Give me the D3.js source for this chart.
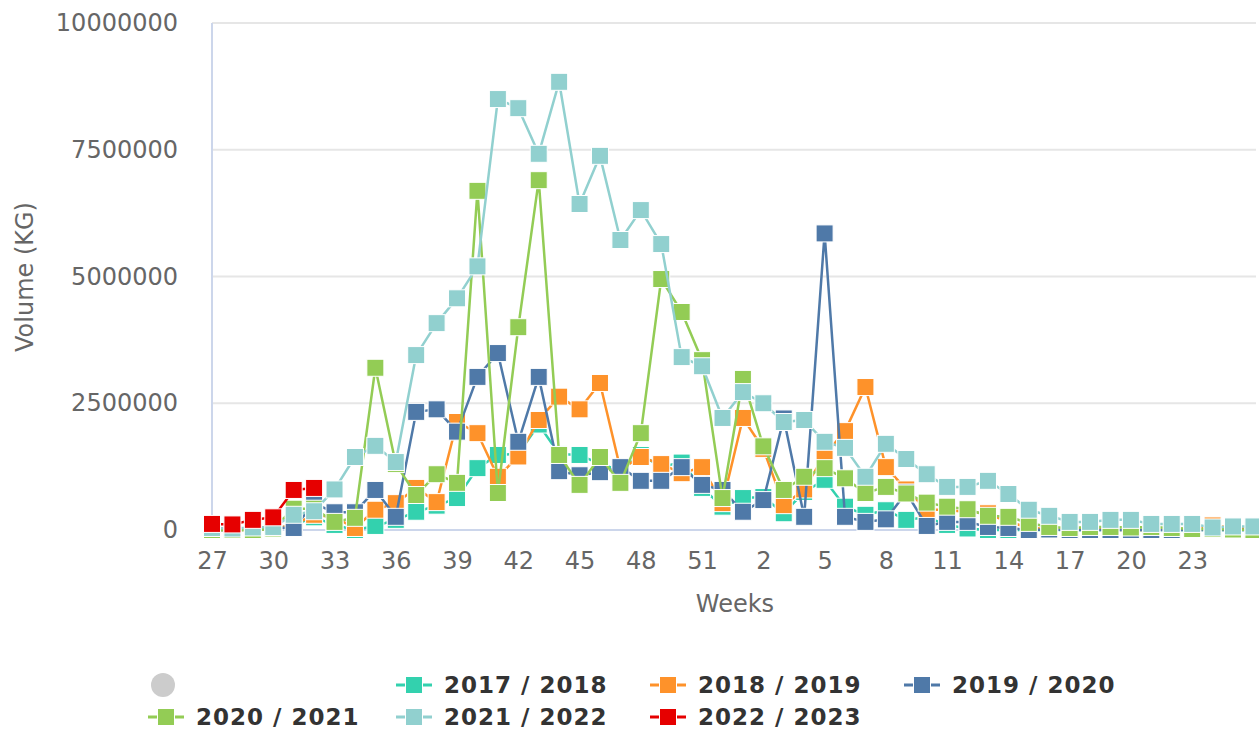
<!DOCTYPE html>
<html>
<head>
<meta charset="utf-8">
<script src="https://cdn.jsdelivr.net/npm/d3@7"></script>
<style>
  body { margin: 0; background: #fff; }
  svg { display: block; font-family: "DejaVu Sans", sans-serif; }
</style>
</head>
<body>
<script>
// week numbers of the season, July to June
var weeks = ["27","28","29","30","31","32","33","34","35","36","37","38","39","40","41","42","43","44","45","46",
  "47","48","49","50","51","52","1","2","3","4","5","6","7","8","9","10","11","12","13","14","15","16","17","18",
  "19","20","21","22","23","24","25","26"];

var s2017 = [0,0,0,20000,100000,250000,100000,0,80000,200000,360000,480000,630000,1220000,1480000,1500000,2080000,1500000,1480000,1300000,
  1180000,1480000,1250000,1330000,830000,460000,630000,650000,330000,750000,990000,460000,300000,390000,200000,250000,100000,30000,0,0,
  0,0,0,0,0,0,0,0,0,0,0,0];
var s2018 = [0,0,0,30000,100000,300000,250000,40000,400000,530000,830000,550000,2130000,1910000,1050000,1450000,2170000,2630000,2380000,2900000,
  1200000,1440000,1300000,1120000,1240000,530000,2210000,1600000,490000,800000,1480000,1950000,2820000,1240000,800000,400000,400000,350000,330000,150000,
  60000,0,20000,30000,0,0,0,20000,30000,90000,40000,20000];
var s2019 = [0,0,10000,50000,40000,520000,350000,350000,790000,260000,2330000,2380000,1940000,3020000,3490000,1740000,3020000,1160000,1080000,1140000,
  1240000,970000,970000,1240000,890000,790000,360000,590000,2200000,260000,5850000,260000,160000,210000,740000,80000,160000,160000,60000,40000,
  0,10000,0,0,0,0,0,0,0,0,0,0];
var s2020 = [0,0,0,30000,420000,420000,160000,240000,3200000,1300000,690000,1100000,930000,6690000,730000,4000000,6900000,1480000,890000,1440000,
  930000,1910000,4950000,4300000,3350000,630000,2980000,1650000,790000,1050000,1220000,1020000,730000,850000,720000,540000,460000,410000,280000,260000,
  140000,60000,40000,60000,60000,50000,60000,40000,20000,20000,10000,0];
var s2021 = [40000,30000,50000,60000,300000,370000,800000,1440000,1660000,1340000,3450000,4080000,4570000,5200000,8500000,8320000,7420000,8840000,6430000,7380000,
  5720000,6310000,5640000,3410000,3230000,2210000,2720000,2500000,2130000,2170000,1740000,1620000,1050000,1700000,1400000,1100000,850000,850000,970000,710000,
  400000,280000,160000,160000,200000,200000,120000,120000,120000,50000,70000,70000];
var s2022 = [120000,110000,200000,250000,790000,830000];

var seriesNames = ["2017 / 2018","2018 / 2019","2019 / 2020","2020 / 2021","2021 / 2022","2022 / 2023"];
var seriesValues = [s2017, s2018, s2019, s2020, s2021, s2022];
var colors = ["#33d1ae","#fe922a","#4f79a8","#93cc55","#91d0cf","#e60000"];
var yTicks = [0, 2500000, 5000000, 7500000, 10000000];

var W = 1259, H = 731;
var plotLeft = 212, plotRight = 1256, plotTop = 23, plotBottom = 530;

var svg = d3.select("body").append("svg").attr("width", W).attr("height", H);

var x = d3.scalePoint().domain(weeks).range([plotLeft, plotLeft + 51 * 20.42]);
var y = d3.scaleLinear().domain([0, 10000000]).range([plotBottom, plotTop]);

// grid lines
svg.append("g").selectAll("line").data(yTicks.slice(1)).enter().append("line")
  .attr("x1", plotLeft).attr("x2", plotRight)
  .attr("y1", function(d){ return y(d); }).attr("y2", function(d){ return y(d); })
  .attr("stroke", "#e6e6e6").attr("stroke-width", 2);

// axis lines
svg.append("line").attr("x1", plotLeft).attr("x2", plotLeft).attr("y1", plotTop).attr("y2", plotBottom)
  .attr("stroke", "#ccd6eb").attr("stroke-width", 2);
svg.append("line").attr("x1", plotLeft).attr("x2", plotRight).attr("y1", plotBottom).attr("y2", plotBottom)
  .attr("stroke", "#ccd6eb").attr("stroke-width", 2);

// y tick labels
var yAxis = d3.axisLeft(y).tickValues(yTicks).tickFormat(d3.format("d")).tickSize(0).tickPadding(34);
var gy = svg.append("g").attr("transform", "translate(" + plotLeft + ",0)").call(yAxis);
gy.select(".domain").remove();
gy.selectAll("text").attr("fill", "#666").style("font-size", "24px").style("font-family", "DejaVu Sans");

// x tick labels, every third week
var xAxis = d3.axisBottom(x).tickValues(weeks.filter(function(d, i){ return i % 3 == 0 && i < 51; }))
  .tickSize(0).tickPadding(22);
var gx = svg.append("g").attr("transform", "translate(0," + plotBottom + ")").call(xAxis);
gx.select(".domain").remove();
gx.selectAll("text").attr("fill", "#666").style("font-size", "24px").style("font-family", "DejaVu Sans");

// axis titles
svg.append("text").attr("x", 735).attr("y", 604).attr("dy", "0.35em").attr("text-anchor", "middle")
  .attr("fill", "#666").style("font-size", "24px").text("Weeks");
svg.append("text").attr("transform", "translate(25,277) rotate(-90)").attr("dy", "0.35em")
  .attr("text-anchor", "middle").attr("fill", "#666").style("font-size", "24px").text("Volume (KG)");

// series: line first, then square markers
var line = d3.line()
  .defined(function(d){ return d != null; })
  .x(function(d, i){ return x(weeks[i]); })
  .y(function(d){ return y(d); });

var msize = 17;
seriesValues.forEach(function(vals, k){
  var g = svg.append("g");
  g.append("path").attr("d", line(vals)).attr("fill", "none")
    .attr("stroke", colors[k]).attr("stroke-width", 2.5).attr("stroke-linejoin", "round");
  g.selectAll("rect").data(vals).enter().append("rect")
    .attr("x", function(d, i){ return x(weeks[i]) - msize / 2; })
    .attr("y", function(d){ return y(d) - msize / 2; })
    .attr("width", msize).attr("height", msize)
    .attr("fill", colors[k]).attr("stroke", "#fff").attr("stroke-width", 1);
});

// legend
var legend = svg.append("g");
legend.append("circle").attr("cx", 163).attr("cy", 685).attr("r", 12).attr("fill", "#ccc");
var legPos = [[414,685],[668,685],[922,685],[166,717],[414,717],[668,717]];
seriesNames.forEach(function(name, k){
  var p = legPos[k];
  var lg = legend.append("g").attr("transform", "translate(" + p[0] + "," + p[1] + ")");
  lg.append("line").attr("x1", -18).attr("x2", 18).attr("stroke", colors[k]).attr("stroke-width", 3);
  lg.append("rect").attr("x", -8.5).attr("y", -8.5).attr("width", 17).attr("height", 17)
    .attr("fill", colors[k]).attr("stroke", "#fff").attr("stroke-width", 1);
  lg.append("text").attr("x", 30).attr("dy", "0.35em").attr("fill", "#333")
    .style("font-size", "23px").style("font-weight", "bold").style("letter-spacing", "1px").text(name);
});
</script>
</body>
</html>
